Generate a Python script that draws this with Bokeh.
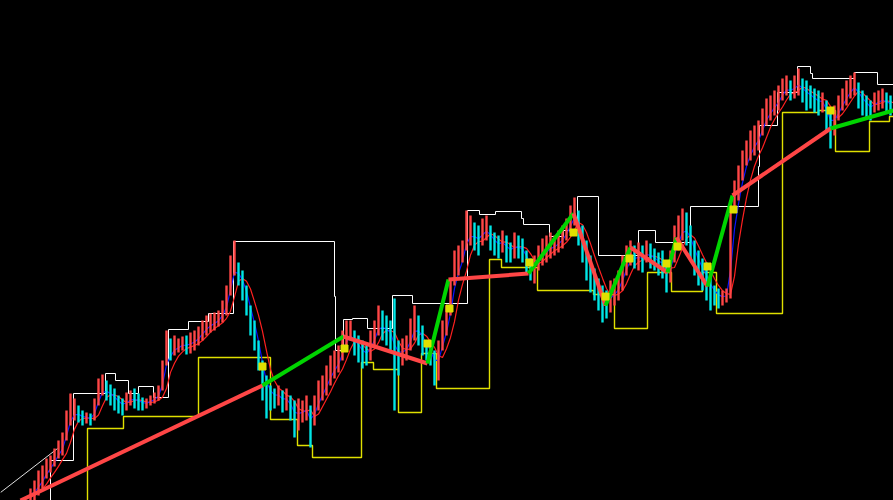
from bokeh.plotting import figure
from bokeh.models import Range1d, ColumnDataSource
from bokeh.embed import file_html
from bokeh.resources import INLINE

# ---- price bars (bar index 0.., arbitrary price units) ----
highs = [12, 20, 30, 35, 42, 45, 52, 60, 68, 90, 107, 102, 95, 90, 88, 87, 102, 122, 126, 120,
         116, 112, 105, 102, 108, 110, 112, 107, 103, 102, 105, 108, 115, 140, 170, 162, 165, 162, 164, 165,
         168, 170, 174, 180, 185, 187, 188, 190, 200, 215, 245, 260, 238, 230, 215, 195, 180, 160, 140, 125,
         115, 112, 115, 110, 112, 105, 100, 102, 100, 105, 95, 105, 120, 125, 135, 145, 150, 155, 170, 180,
         180, 170, 165, 160, 155, 170, 180, 195, 190, 185, 180, 202, 160, 162, 165, 182, 195, 185, 175, 160,
         155, 150, 160, 180, 195, 220, 250, 255, 260, 290, 285, 278, 275, 282, 285, 275, 268, 265, 270, 265,
         258, 268, 265, 262, 250, 242, 245, 255, 262, 265, 268, 265, 270, 275, 282, 295, 303, 290, 275, 260,
         245, 232, 222, 215, 210, 220, 222, 230, 245, 255, 260, 255, 258, 255, 260, 257, 252, 248, 250, 238,
         250, 275, 285, 292, 288, 275, 260, 250, 242, 238, 228, 215, 212, 210, 212, 300, 320, 335, 350, 360,
         370, 375, 380, 392, 402, 405, 410, 415, 422, 425, 420, 425, 432, 422, 420, 415, 412, 410, 408, 400,
         390, 395, 405, 412, 420, 425, 428, 418, 410, 405, 400, 408, 410, 412, 408, 405]
lows = [0, 0, 5, 12, 22, 28, 34, 42, 45, 60, 75, 80, 78, 75, 77, 75, 80, 95, 105, 100,
        95, 90, 87, 85, 90, 95, 92, 90, 90, 92, 95, 97, 100, 110, 135, 140, 145, 148, 150, 146,
        147, 150, 155, 160, 165, 168, 170, 174, 178, 185, 205, 225, 215, 200, 185, 165, 150, 130, 100, 82,
        90, 92, 95, 88, 90, 80, 63, 70, 78, 80, 53, 75, 90, 100, 105, 115, 122, 128, 140, 155,
        160, 145, 138, 132, 135, 140, 155, 165, 160, 155, 150, 90, 125, 135, 140, 150, 160, 155, 145, 140,
        135, 115, 120, 150, 165, 185, 215, 225, 238, 250, 255, 250, 245, 255, 260, 250, 245, 242, 248, 238,
        238, 242, 242, 238, 228, 220, 217, 230, 235, 238, 242, 245, 248, 252, 260, 268, 275, 255, 238, 220,
        208, 200, 190, 178, 182, 188, 195, 200, 210, 225, 235, 232, 230, 228, 238, 232, 230, 225, 222, 208,
        218, 238, 250, 260, 255, 240, 225, 215, 210, 200, 190, 195, 192, 195, 198, 202, 290, 300, 320, 335,
        340, 345, 350, 365, 375, 380, 385, 390, 400, 405, 400, 402, 405, 398, 390, 392, 388, 385, 388, 370,
        352, 365, 380, 390, 395, 402, 405, 392, 385, 383, 380, 388, 390, 392, 388, 385]

# ---- upper channel (white steps): bar position where level starts, level ----
upper_x = [-4.5, 5, 10.75, 18.75, 21.25, 24.5, 27, 30.75, 34.5, 39.5, 44.5, 50.75, 76, 76.25, 78.25,
           80.5, 84.25, 90.5, 95.5, 109.25, 112.25, 116.25, 122.75, 123.25, 129.75, 133.25, 136.75,
           142, 152, 156.25, 165, 182, 182.25, 186.75, 191.75, 195, 195.5, 206, 211.75, 216.5]
upper_lv = [-2, 40, 107, 127, 120, 107, 114, 103, 171, 179, 187, 259, 204, 150, 181,
            182, 172, 205, 197, 290, 286, 289, 282, 276, 264, 270, 304,
            245, 270, 258, 294, 334, 375, 408, 434, 427, 422, 428, 416, 416]

# ---- lower channel (yellow steps) ----
lower_x = [13.75, 14.25, 23.25, 42, 60, 66.75, 70.5, 82.75, 85.75, 92, 97.75, 101.5, 114.75, 117.75,
           126.75, 140.75, 146, 154.25, 160.25, 168, 171.5, 188, 197, 201.25, 209.75, 214.75, 216.5]
lower_lv = [-2, 72, 84, 143, 81, 55, 43, 138, 131, 88, 147, 112, 241, 233,
            210, 206, 172, 228, 209, 228, 187, 388, 390, 349, 379, 384, 384]

# ---- zigzag pivots ----
zz_x = [-2.5, 58, 78.25, 99.25, 104.5, 124.5, 135.75, 143.75, 150, 159.25, 161.5, 169.25, 175.5, 200, 215.75]
zz_y = [0, 115, 164, 137, 221, 227, 287, 195, 253, 228, 263, 214, 305, 372, 390]

# ---- signal markers ----
sig_x = [58, 78.5, 99.25, 104.75, 124.75, 135.75, 143.75, 149.75, 159, 161.75, 169.25, 175.75, 200]
sig_y = [134, 152, 157, 192, 238, 268, 204, 242, 237, 254, 234, 291, 390]

# ---- early trend line ----
trend_x = [-7.5, 6.75]
trend_y = [8, 52]

RED = "#ff4646"
CYAN = "#00e6e6"

n = len(highs)
idx = list(range(n))
mids = [(h + l) / 2 for h, l in zip(highs, lows)]
cols = [RED if (k == 0 or mids[k] >= mids[k - 1]) else CYAN for k in range(n)]

# moving averages of the bar mid-prices (indicator lines)
def ema(vals, a):
    out = []
    cur = vals[0]
    for v in vals:
        cur = cur + a * (v - cur)
        out.append(cur)
    return out

fast = ema(mids, 0.55)
slow = ema(mids, 0.4)

p = figure(width=893, height=500, output_backend="svg", toolbar_location=None,
           x_axis_location=None, y_axis_location=None,
           x_range=Range1d(-7.5, 215.75), y_range=Range1d(0, 500),
           background_fill_color="black", border_fill_color="black", min_border=0)
p.outline_line_color = None
p.grid.visible = False

# channels
p.step(upper_x, upper_lv, mode="after", line_color="white", line_width=1)
p.step(lower_x, lower_lv, mode="after", line_color="#e0e000", line_width=1.4)
p.line(trend_x, trend_y, line_color="#e0e0e0", line_width=1)

# indicator lines (behind bars)
p.line([i + 1 for i in idx], slow, line_color="#ff2020", line_width=1.2)
p.line(idx, fast, line_color="#0a14ff", line_width=1.2)

# bars
src = ColumnDataSource(dict(x=idx, h=highs, l=lows, c=cols))
p.segment(x0="x", y0="l", x1="x", y1="h", color="c", line_width=2.4, source=src)

# zigzag
zz_cols = [RED if i % 2 == 0 else "#00d400" for i in range(len(zz_x) - 1)]
p.segment(x0=zz_x[:-1], y0=zz_y[:-1], x1=zz_x[1:], y1=zz_y[1:], line_color=zz_cols, line_width=4)

# markers
p.scatter(sig_x, sig_y, marker="square", size=7, fill_color="#e0e000", line_color="#e0e000")

html = file_html(p, INLINE)
html = html.replace("</head>", "<style>html,body{background:#000;margin:0;}</style></head>", 1)
open("out.html", "w").write(html)
